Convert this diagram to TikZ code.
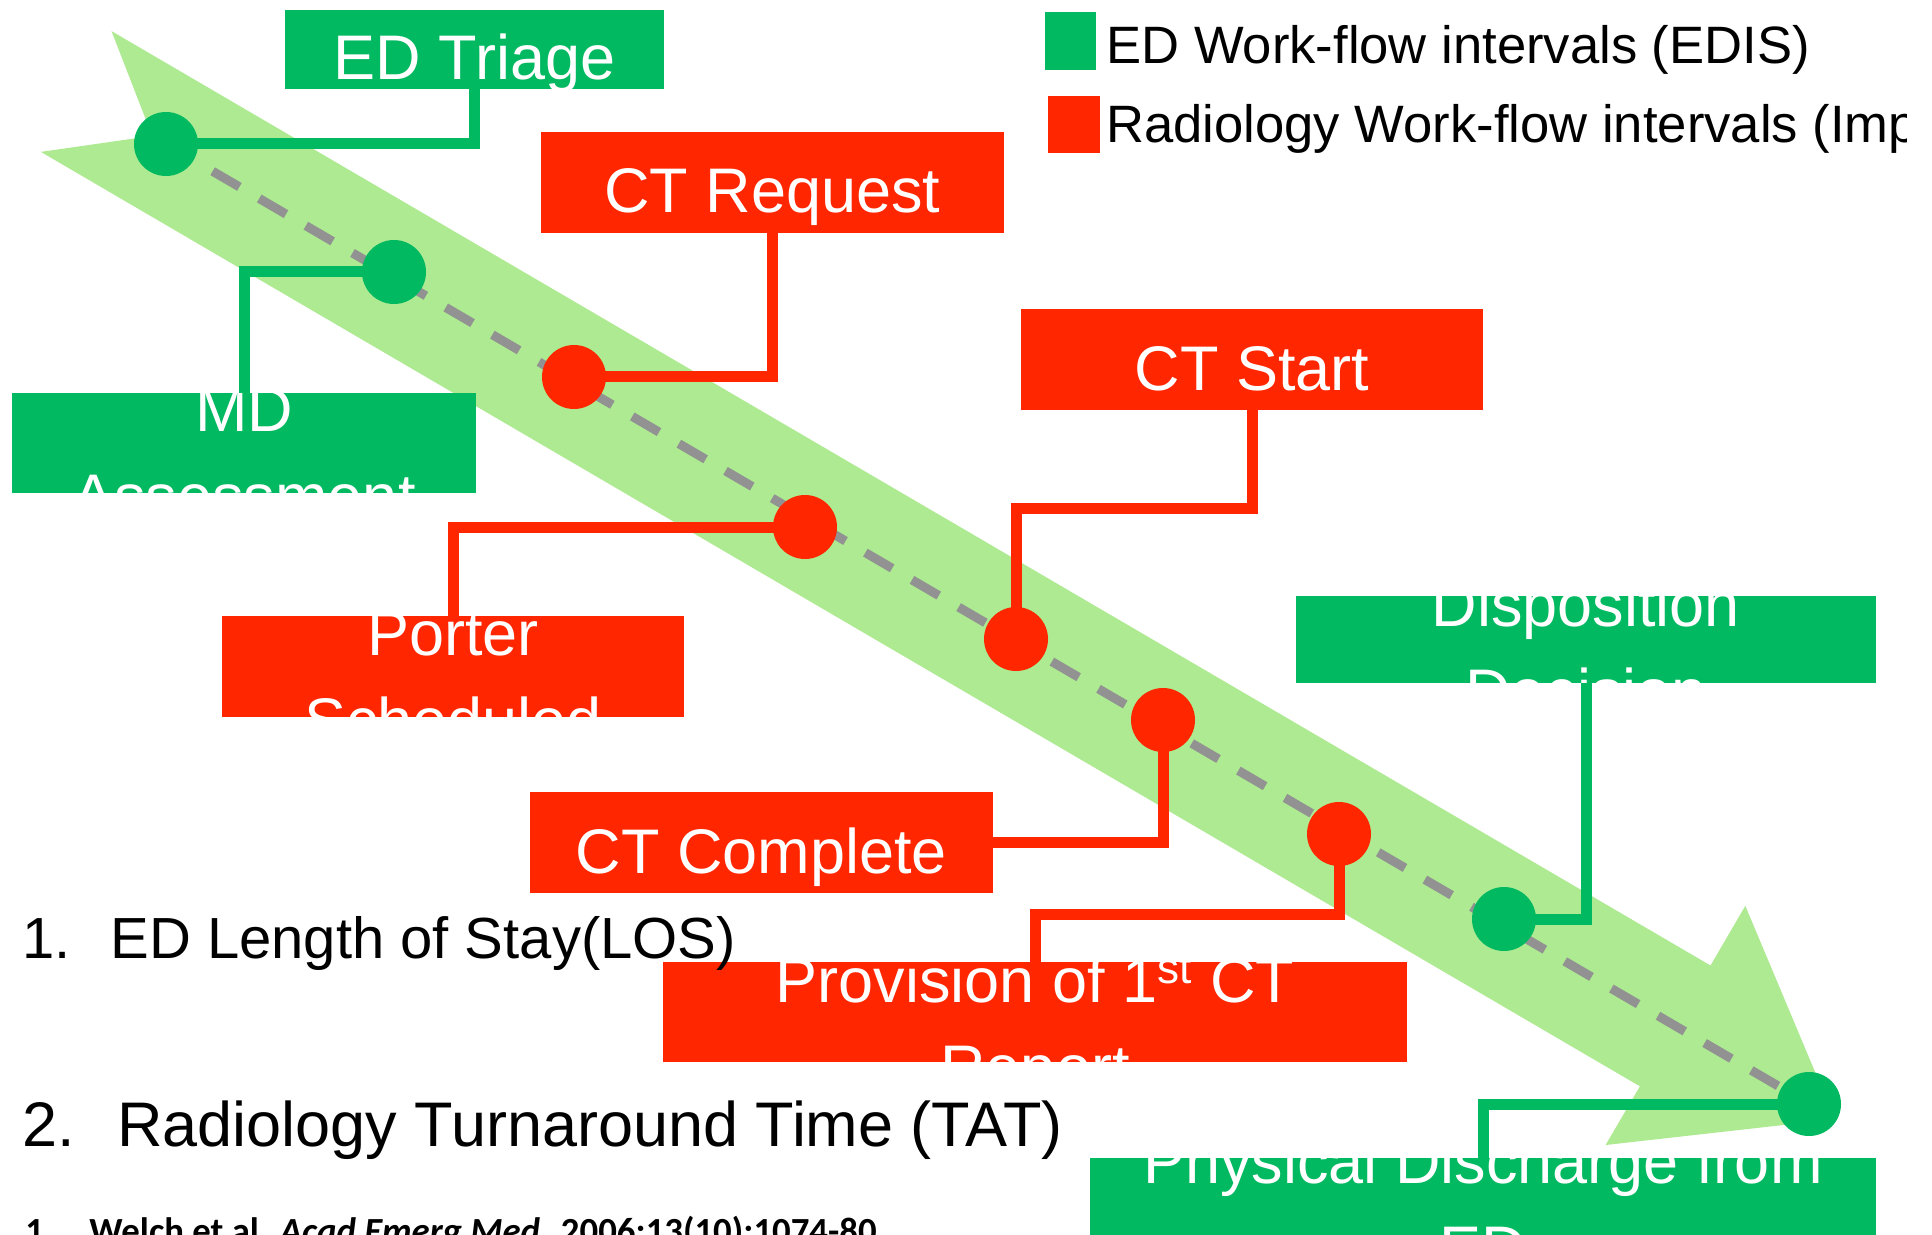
\documentclass[tikz,border=0pt]{standalone}
\usepackage{fontspec}
\setmainfont{Liberation Sans}
\newfontfamily\citefont{Carlito}
\usetikzlibrary{calc}

\definecolor{edgreen}{RGB}{0,185,96}
\definecolor{radred}{RGB}{255,38,0}
\definecolor{flowgreen}{RGB}{173,234,145}
\definecolor{dashgray}{RGB}{146,146,146}

\tikzset{
  stepbox/.style={rectangle, inner sep=0pt, outer sep=0pt, draw=none},
  edbox/.style={stepbox, fill=edgreen},
  radbox/.style={stepbox, fill=radred},
  % anchor=base sits on the baseline of the last line of a label
  boxtext/.style={text=white, font=\fontsize{31.5}{43.5}\selectfont,
    align=center, inner sep=0pt, anchor=base},
  milestone/.style={circle, minimum size=32pt, inner sep=0pt, outer sep=0pt, draw=none},
  edmile/.style={milestone, fill=edgreen},
  radmile/.style={milestone, fill=radred},
  edlink/.style={draw=edgreen, line width=5.5pt},
  radlink/.style={draw=radred, line width=5.5pt},
  flowdash/.style={draw=dashgray, line width=4.5pt, dash pattern=on 15.5pt off 11.5pt},
  plain/.style={inner sep=0pt, anchor=base west, text=black},
}

\begin{document}
\begin{tikzpicture}[x=0.5pt, y=-0.5pt]
  \useasboundingbox (0,0) rectangle (1932,1235);
  \fill[white] (0,0) rectangle (1932,1235);
  \clip (0,0) rectangle (1906,1235);

  % broad flow arrow with swallow tail
  \fill[flowgreen] (152.2,135.9) -- (111.5,31.1) -- (1710.5,965.5) -- (1745.3,905.9)
    -- (1834.9,1119.2) -- (1605.6,1145.0) -- (1639.9,1086.3) -- (40.9,151.9) -- cycle;

  % milestone positions along the timeline
  \coordinate (p1) at (166,144);
  \coordinate (p2) at (394,272);
  \coordinate (p3) at (574,377);
  \coordinate (p4) at (805,527);
  \coordinate (p5) at (1016,639);
  \coordinate (p6) at (1163,720);
  \coordinate (p7) at (1339,834);
  \coordinate (p8) at (1504,919);
  \coordinate (p9) at (1809,1104);

  \draw[flowdash] (p1) -- (p9);

  % event boxes
  \node[edbox, minimum width=189.5pt, minimum height=39.5pt] (triage) at (474.5,49.5) {};
  \node[radbox, minimum width=231.5pt, minimum height=50.5pt] (ctreq) at (772.5,182.5) {};
  \node[edbox, minimum width=232pt, minimum height=50pt] (md) at (244,443) {};
  \node[radbox, minimum width=231pt, minimum height=50.5pt] (ctstart) at (1252,359.5) {};
  \node[radbox, minimum width=231pt, minimum height=50.5pt] (porter) at (453,666.5) {};
  \node[edbox, minimum width=290pt, minimum height=43.5pt] (disp) at (1586,639.5) {};
  \node[radbox, minimum width=231.5pt, minimum height=50.5pt] (ctcomp) at (761.5,842.5) {};
  \node[radbox, minimum width=372pt, minimum height=50pt] (prov) at (1035,1012) {};
  \node[edbox, minimum width=393pt, minimum height=66pt] (phys) at (1483,1224) {};

  \node[boxtext] (triagetext) at (474.5,80) {ED Triage};
  \node[boxtext] (ctreqtext) at (772.5,213) {CT Request};
  \node[boxtext] (ctstarttext) at (1252,391) {CT Start};
  \node[boxtext] (ctcomptext) at (761.5,873) {CT Complete};
  \node[boxtext] (mdtext) at (244,518) {MD\\Assessment};
  \node[boxtext] (portertext) at (453,742) {Porter\\Scheduled};
  \node[boxtext] (disptext) at (1586,713) {Disposition\\Decision};
  \node[boxtext] (provtext) at (1035,1089) {Provision of 1\textsuperscript{st} CT\\Report};
  \node[boxtext] (phystext) at (1483,1270) {Physical Discharge from\\ED};

  % milestones
  \node[edmile] (d1) at (p1) {};
  \node[edmile] (d2) at (p2) {};
  \node[radmile] (d3) at (p3) {};
  \node[radmile] (d4) at (p4) {};
  \node[radmile] (d5) at (p5) {};
  \node[radmile] (d6) at (p6) {};
  \node[radmile] (d7) at (p7) {};
  \node[edmile] (d8) at (p8) {};
  \node[edmile] (d9) at (p9) {};

  % connectors from boxes to milestones
  \coordinate (j5) at (1016,508);
  \coordinate (j7) at (1035,914);
  \draw[edlink] (triage.south) |- (d1.center);
  \draw[edlink] (md.north) |- (d2.center);
  \draw[radlink] (ctreq.south) |- (d3.center);
  \draw[radlink] (porter.north) |- (d4.center);
  \draw[radlink] (ctstart.south) |- (j5) -- (d5.center);
  \draw[radlink] (ctcomp.east) -| (d6.center);
  \draw[radlink] (d7.center) |- (j7) -- (prov.north);
  \draw[edlink] (disp.south) |- (d8.center);
  \draw[edlink] (phys.north) |- (d9.center);

  % legend
  \node[edbox, minimum width=25.5pt, minimum height=29pt] (keyed) at (1070.5,41) {};
  \node[radbox, minimum width=26pt, minimum height=28.5pt] (keyrad) at (1074,124.5) {};
  \node[plain, font=\fontsize{26.3}{30}\selectfont] (keyedtext) at (1106,64)
    {ED Work-flow intervals (EDIS)};
  \node[plain, font=\fontsize{26.3}{30}\selectfont] (keyradtext) at (1106,143)
    {Radiology Work-flow intervals (Impax)};

  % outcome measures
  \node[plain, font=\fontsize{29}{34}\selectfont] (los) at (22,958)
    {\makebox[44pt][l]{1.}ED Length of Stay(LOS)};
  \node[plain, font=\fontsize{31.5}{36}\selectfont] (tat) at (22,1146)
    {\makebox[47.5pt][l]{2.}Radiology Turnaround Time (TAT)};

  % reference
  \node[plain, font=\citefont\bfseries\fontsize{18.4}{22}\selectfont] (cite) at (25,1243)
    {\makebox[32pt][l]{1}Welch et al. \textit{Acad Emerg Med.} 2006;13(10):1074-80};
\end{tikzpicture}
\end{document}
